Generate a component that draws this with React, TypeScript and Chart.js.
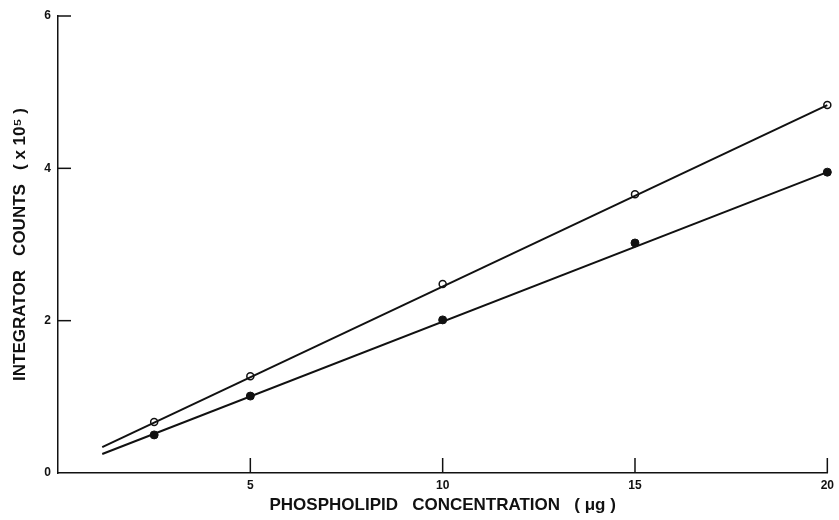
import { useEffect, useRef } from 'react';
import { Chart, registerables } from 'chart.js';

Chart.register(...registerables);

// Measured points (µg phospholipid, integrator counts x10^5)
const xValues = [2.5, 5, 10, 15, 20];
const openValues = [0.67, 1.27, 2.48, 3.66, 4.83];
const filledValues = [0.5, 1.01, 2.01, 3.02, 3.95];

// Drawn fit lines (end points)
const fitX = [1.15, 20];
const openFit = [0.34, 4.83];
const filledFit = [0.25, 3.95];

const xTicks = [5, 10, 15, 20];
const yTicks = [0, 2, 4, 6];

const xTitle = 'PHOSPHOLIPID   CONCENTRATION   ( μg )';
const yTitle = 'INTEGRATOR   COUNTS   ( x 10⁵ )';

const INK = '#111';
const FONT = "'Liberation Sans', Arial, Helvetica, sans-serif";

const inwardTicks = {
  id: 'inwardTicks',
  afterDraw(chart: any) {
    const { ctx } = chart;
    const x = chart.scales.x;
    const y = chart.scales.y;
    ctx.save();
    ctx.strokeStyle = INK;
    ctx.lineWidth = 1.5;
    yTicks.forEach((v) => {
      if (v === 0) return;
      const py = y.getPixelForValue(v);
      ctx.beginPath();
      ctx.moveTo(x.left, py);
      ctx.lineTo(x.left + 13, py);
      ctx.stroke();
    });
    xTicks.forEach((v) => {
      const px = x.getPixelForValue(v);
      ctx.beginPath();
      ctx.moveTo(px, y.bottom);
      ctx.lineTo(px, y.bottom - 15);
      ctx.stroke();
    });
    ctx.restore();
  },
};

export default function App() {
  const ref = useRef<HTMLCanvasElement | null>(null);

  useEffect(() => {
    if (!ref.current) return;
    const chart = new Chart(ref.current, {
      type: 'scatter',
      data: {
        datasets: [
          {
            label: 'fit open',
            data: fitX.map((x, i) => ({ x, y: openFit[i] })),
            showLine: true,
            borderColor: INK,
            borderWidth: 2,
            pointRadius: 0,
            clip: false,
          },
          {
            label: 'fit filled',
            data: fitX.map((x, i) => ({ x, y: filledFit[i] })),
            showLine: true,
            borderColor: INK,
            borderWidth: 2,
            pointRadius: 0,
            clip: false,
          },
          {
            label: 'open',
            data: xValues.map((x, i) => ({ x, y: openValues[i] })),
            showLine: false,
            pointRadius: 3.5,
            pointBackgroundColor: '#fff',
            pointBorderColor: INK,
            pointBorderWidth: 1.5,
            clip: false,
          },
          {
            label: 'filled',
            data: xValues.map((x, i) => ({ x, y: filledValues[i] })),
            showLine: false,
            pointRadius: 4,
            pointBackgroundColor: INK,
            pointBorderColor: INK,
            pointBorderWidth: 1,
            clip: false,
          },
        ],
      },
      options: {
        animation: false,
        responsive: true,
        maintainAspectRatio: false,
        layout: { padding: { left: 0, top: 16, right: 9, bottom: 0 } },
        plugins: {
          legend: { display: false },
          tooltip: { enabled: false },
        },
        scales: {
          x: {
            type: 'linear',
            min: 0,
            max: 20,
            afterFit: (s: any) => {
              s.height = 47;
            },
            afterBuildTicks: (s: any) => {
              s.ticks = [0, ...xTicks].map((v) => ({ value: v }));
            },
            ticks: {
              color: INK,
              padding: 5,
              font: { family: FONT, size: 12, weight: 'bold' },
              callback: (v: any) => (v === 0 ? '' : String(v)),
            },
            grid: { display: false, drawTicks: false },
            border: { display: true, color: INK, width: 1.5 },
            title: {
              display: true,
              text: xTitle,
              color: INK,
              font: { family: FONT, size: 17, weight: 'bold' },
              padding: { top: 4, bottom: 4 },
            },
          },
          y: {
            type: 'linear',
            min: 0,
            max: 6,
            afterFit: (s: any) => {
              s.width = 58;
            },
            afterBuildTicks: (s: any) => {
              s.ticks = yTicks.map((v) => ({ value: v }));
            },
            ticks: {
              color: INK,
              padding: 7,
              font: { family: FONT, size: 12, weight: 'bold' },
              callback: (v: any) => String(v),
            },
            grid: { display: false, drawTicks: false },
            border: { display: true, color: INK, width: 1.5 },
            title: {
              display: true,
              text: yTitle,
              color: INK,
              font: { family: FONT, size: 17, weight: 'bold' },
              padding: { top: 10, bottom: 4 },
            },
          },
        },
      },
      plugins: [inwardTicks],
    } as any);
    return () => chart.destroy();
  }, []);

  return (
    <div style={{ position: 'absolute', left: 0, top: 0, width: 839, height: 520, background: '#fff' }}>
      <canvas ref={ref} />
    </div>
  );
}
